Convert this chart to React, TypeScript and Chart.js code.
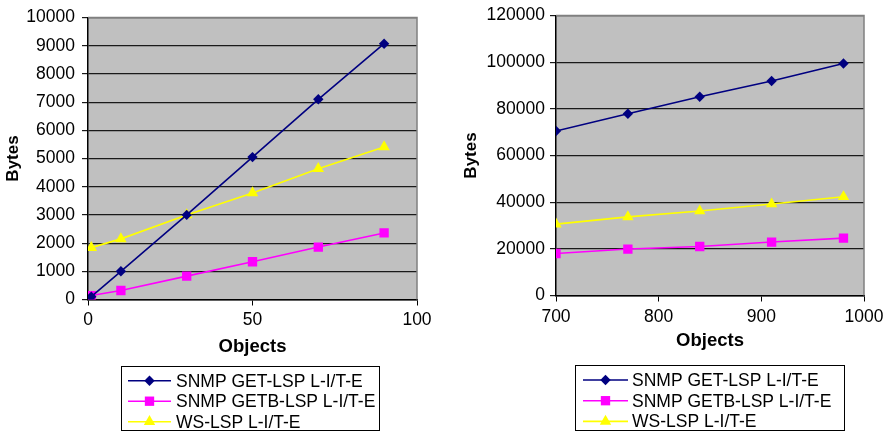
import React, { useEffect, useRef } from "react";
import { Chart, registerables } from "chart.js";

Chart.register(...registerables);

const FONT = "'Liberation Sans', Arial, Helvetica, sans-serif";

const seriesNames = ["SNMP GET-LSP L-I/T-E", "SNMP GETB-LSP L-I/T-E", "WS-LSP L-I/T-E"];
const axisTitleX = "Objects";
const axisTitleY = "Bytes";

// Left chart
const leftObjects = [1, 10, 30, 50, 70, 90];
const leftGet = [100, 1000, 3000, 5050, 7100, 9070];
const leftGetb = [140, 320, 830, 1340, 1860, 2360];
const leftWs = [1840, 2150, 3000, 3780, 4640, 5410];

// Right chart
const rightObjects = [700, 770, 840, 910, 980];
const rightGet = [70500, 77900, 85200, 91900, 99400];
const rightGetb = [18000, 19900, 21000, 22900, 24600];
const rightWs = [30600, 33700, 36200, 39200, 42300];

const seriesColors = ["#000080", "#FF00FF", "#FFFF00"];
const seriesShapes = ["rectRot", "rect", "triangle"];
const seriesRadius = [5.2, 6.6, 6.6];

function drawMarker(ctx: CanvasRenderingContext2D, shape: string, r: number, x: number, y: number, color: string) {
  ctx.save();
  ctx.fillStyle = color;
  ctx.beginPath();
  if (shape === "rectRot") {
    ctx.moveTo(x, y - r);
    ctx.lineTo(x + r, y);
    ctx.lineTo(x, y + r);
    ctx.lineTo(x - r, y);
  } else if (shape === "rect") {
    const s = r * Math.SQRT1_2;
    ctx.rect(x - s, y - s, 2 * s, 2 * s);
  } else {
    const h = (Math.sqrt(3) / 2) * r;
    ctx.moveTo(x, y - r);
    ctx.lineTo(x + h, y + r / 2);
    ctx.lineTo(x - h, y + r / 2);
  }
  ctx.closePath();
  ctx.fill();
  ctx.restore();
}

const plotBg = {
  id: "plotBg",
  beforeDraw(chart: any) {
    const { ctx, chartArea } = chart;
    const { left, top, right, bottom } = chartArea;
    ctx.save();
    ctx.fillStyle = "#C0C0C0";
    ctx.fillRect(left, top, right - left, bottom - top);
    ctx.restore();
  },
  beforeDatasetsDraw(chart: any) {
    const { ctx, chartArea } = chart;
    const { left, top, right, bottom } = chartArea;
    ctx.save();
    ctx.strokeStyle = "#808080";
    ctx.lineWidth = 1.5;
    ctx.beginPath();
    ctx.moveTo(left, top);
    ctx.lineTo(right, top);
    ctx.lineTo(right, bottom);
    ctx.stroke();
    ctx.restore();
  },
};

const boxLegend = {
  id: "boxLegend",
  afterDraw(chart: any, _args: any, opts: any) {
    const { ctx } = chart;
    const { box, lineX0, lineX1, textX, rows, fontSize } = opts;
    ctx.save();
    ctx.fillStyle = "#FFFFFF";
    ctx.fillRect(box.x, box.y, box.w, box.h);
    ctx.strokeStyle = "#000000";
    ctx.lineWidth = 1;
    ctx.strokeRect(box.x + 0.5, box.y + 0.5, box.w, box.h);
    chart.data.datasets.forEach((ds: any, i: number) => {
      const y = rows[i];
      ctx.strokeStyle = ds.borderColor;
      ctx.lineWidth = ds.borderWidth;
      ctx.beginPath();
      ctx.moveTo(lineX0, y);
      ctx.lineTo(lineX1, y);
      ctx.stroke();
      drawMarker(ctx, ds.pointStyle, ds.pointRadius, (lineX0 + lineX1) / 2, y, ds.pointBackgroundColor);
      ctx.fillStyle = "#000000";
      ctx.font = `${fontSize}px ${FONT}`;
      ctx.textBaseline = "middle";
      ctx.textAlign = "left";
      ctx.fillText(ds.label, textX, y + 1);
    });
    ctx.restore();
  },
};

type Cfg = {
  objects: number[];
  series: number[][];
  xMin: number;
  xMax: number;
  xStep: number;
  yMax: number;
  yStep: number;
  padding: { top: number; right: number; bottom: number; left: number };
  yAxisWidth: number;
  xAxisHeight: number;
  yTitlePad: number;
  yTickPad: number;
  xTickPad: number;
  xTitlePad: number;
  legend: any;
};

function buildConfig(c: Cfg): any {
  const datasets = c.series.map((vals, i) => ({
    label: seriesNames[i],
    data: c.objects.map((x, j) => ({ x, y: vals[j] })),
    borderColor: seriesColors[i],
    backgroundColor: seriesColors[i],
    pointBackgroundColor: seriesColors[i],
    pointBorderColor: seriesColors[i],
    pointBorderWidth: 0,
    pointStyle: seriesShapes[i],
    pointRadius: seriesRadius[i],
    borderWidth: 1.6,
    tension: 0,
    fill: false,
  }));
  const tickFont = { family: FONT, size: 17.5 };
  const xTitleFont = { family: FONT, size: 18.5, weight: "bold" };
  const yTitleFont = { family: FONT, size: 17, weight: "bold" };
  return {
    type: "line",
    data: { datasets },
    plugins: [plotBg, boxLegend],
    options: {
      responsive: false,
      animation: false,
      layout: { padding: c.padding },
      plugins: {
        legend: { display: false },
        tooltip: { enabled: false },
        boxLegend: c.legend,
      },
      scales: {
        x: {
          type: "linear",
          min: c.xMin,
          max: c.xMax,
          afterFit(scale: any) {
            scale.height = c.xAxisHeight;
          },
          ticks: {
            stepSize: c.xStep,
            color: "#000",
            font: tickFont,
            padding: c.xTickPad,
            maxRotation: 0,
            callback: (v: any) => String(v),
          },
          grid: {
            drawOnChartArea: false,
            drawTicks: true,
            tickLength: 6,
            color: "#000",
            lineWidth: 1,
          },
          border: { display: true, color: "#000", width: 1.5 },
          title: {
            display: true,
            text: axisTitleX,
            color: "#000",
            font: xTitleFont,
            padding: { top: 0, bottom: c.xTitlePad },
          },
        },
        y: {
          type: "linear",
          min: 0,
          max: c.yMax,
          afterFit(scale: any) {
            scale.width = c.yAxisWidth;
          },
          ticks: {
            stepSize: c.yStep,
            color: "#000",
            font: tickFont,
            padding: c.yTickPad,
            callback: (v: any) => String(v),
          },
          grid: {
            drawOnChartArea: true,
            drawTicks: true,
            tickLength: 6,
            color: "#1a1a1a",
            lineWidth: 1.2,
          },
          border: { display: true, color: "#000", width: 1.5 },
          title: {
            display: true,
            text: axisTitleY,
            color: "#000",
            font: yTitleFont,
            padding: { top: c.yTitlePad, bottom: 0 },
          },
        },
      },
    },
  };
}

const leftCfg: Cfg = {
  objects: leftObjects,
  series: [leftGet, leftGetb, leftWs],
  xMin: 0,
  xMax: 100,
  xStep: 50,
  yMax: 10000,
  yStep: 1000,
  padding: { top: 15, right: 28, bottom: 73.5, left: 0 },
  yAxisWidth: 88,
  xAxisHeight: 59,
  yTitlePad: 3,
  yTickPad: 7,
  xTickPad: 4,
  xTitlePad: 0,
  legend: {
    box: { x: 121, y: 366, w: 258, h: 64 },
    lineX0: 128,
    lineX1: 171,
    textX: 176,
    rows: [380.7, 401.2, 421.7],
    fontSize: 17.5,
  },
};

const rightCfg: Cfg = {
  objects: rightObjects,
  series: [rightGet, rightGetb, rightWs],
  xMin: 700,
  xMax: 1000,
  xStep: 100,
  yMax: 120000,
  yStep: 20000,
  padding: { top: 8, right: 26, bottom: 80, left: 0 },
  yAxisWidth: 111,
  xAxisHeight: 56.5,
  yTitlePad: 16.5,
  yTickPad: 5,
  xTickPad: 5,
  xTitlePad: 0,
  legend: {
    box: { x: 130, y: 365, w: 269, h: 65 },
    lineX0: 138,
    lineX1: 183,
    textX: 187,
    rows: [380, 400.7, 421.4],
    fontSize: 17.5,
  },
};

function LineChart({ cfg }: { cfg: Cfg }) {
  const ref = useRef<HTMLCanvasElement>(null);
  useEffect(() => {
    const chart = new Chart(ref.current as HTMLCanvasElement, buildConfig(cfg));
    return () => chart.destroy();
  }, [cfg]);
  return (
    <canvas
      ref={ref}
      width={445}
      height={432}
      style={{ display: "block", width: 445, height: 432 }}
    />
  );
}

export default function App() {
  return (
    <div
      style={{
        position: "absolute",
        left: 0,
        top: 0,
        width: 890,
        height: 432,
        display: "flex",
        background: "#fff",
      }}
    >
      <LineChart cfg={leftCfg} />
      <LineChart cfg={rightCfg} />
    </div>
  );
}
